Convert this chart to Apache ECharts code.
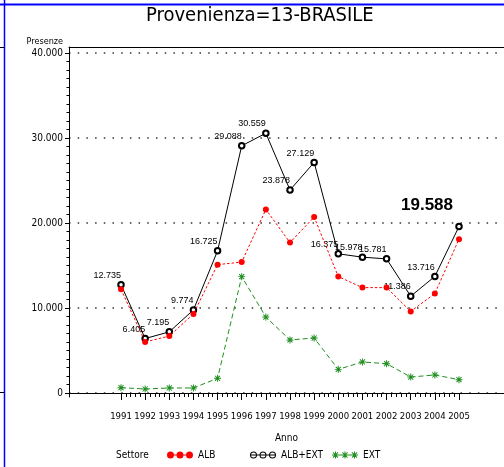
<!DOCTYPE html>
<html>
<head>
<meta charset="utf-8">
<script src="https://cdn.jsdelivr.net/npm/echarts@6/dist/echarts.min.js"></script>
<style>
  html, body { margin: 0; padding: 0; background: #fff; }
  #chart { width: 504px; height: 467px; }
</style>
</head>
<body>
<div id="chart"></div>
<script>
const years = [1991, 1992, 1993, 1994, 1995, 1996, 1997, 1998, 1999, 2000, 2001, 2002, 2003, 2004, 2005];
const albExt = [12735, 6405, 7195, 9774, 16725, 29088, 30559, 23878, 27129, 16375, 15978, 15781, 11386, 13716, 19588];
const alb = [12200, 6000, 6700, 9300, 15100, 15400, 21600, 17700, 20700, 13700, 12400, 12400, 9600, 11700, 18100];
const ext = [630, 470, 590, 590, 1730, 13690, 8940, 6240, 6470, 2780, 3650, 3450, 1880, 2120, 1570];
const yTicks = [0, 10000, 20000, 30000, 40000];

const chart = echarts.init(document.getElementById("chart"));
const FONT = '"DejaVu Sans Condensed", "Liberation Sans Narrow", sans-serif';

function fmtIt(v) {
  return String(Math.round(v)).replace(/\B(?=(\d{3})+(?!\d))/g, ".");
}

function pairs(vals) {
  return vals.map((v, i) => [years[i], v]);
}

// asterisk built from four thin bars, all wound the same way
function asterisk(cx, cy, r, w) {
  const h = w / 2;
  const d = r * 0.72;
  const k = h * 0.72;
  return [
    `M${cx - r} ${cy - h}H${cx + r}V${cy + h}H${cx - r}Z`,
    `M${cx - h} ${cy - r}H${cx + h}V${cy + r}H${cx - h}Z`,
    `M${cx - d + k} ${cy - d - k}L${cx + d + k} ${cy + d - k}L${cx + d - k} ${cy + d + k}L${cx - d - k} ${cy - d + k}Z`,
    `M${cx + d - k} ${cy - d - k}L${cx + d + k} ${cy - d + k}L${cx - d + k} ${cy + d + k}L${cx - d - k} ${cy + d - k}Z`,
  ].join("");
}

function dot(cx, cy, r) {
  return `M${cx - r} ${cy}a${r} ${r} 0 1 1 ${2 * r} 0a${r} ${r} 0 1 1 ${-2 * r} 0Z`;
}
function ring(cx, cy, r, t) {
  const ri = r - t;
  return dot(cx, cy, r) + `M${cx - ri} ${cy}a${ri} ${ri} 0 1 0 ${2 * ri} 0a${ri} ${ri} 0 1 0 ${-2 * ri} 0Z`;
}

const centers = [3.5, 13, 22.5];
const iconAlb = "path://" + centers.map((c) => dot(c, 4, 3.5)).join("") + "M7 3.5H9.5V4.5H7ZM16.5 3.5H19V4.5H16.5Z";
const iconTot = "path://M0 3.5H26V4.5H0Z" + centers.map((c) => ring(c, 4, 3.5, 1)).join("");
const iconExt = "path://M0 3.6H26V4.4H0Z" + centers.map((c) => asterisk(c, 4, 3.5, 1)).join("");
const starSymbol = "path://" + asterisk(5, 5, 5, 1.4);

const xMin = 1991 - 52 / 24.143;
const xMax = xMin + 435 / 24.143;
const minorX = [];
for (let y = 1991; y < 2005; y++) {
  for (let k = 1; k < 5; k++) minorX.push(y + k / 5);
}
const minorY = [];
for (let v = 0; v <= 40000; v += 1000) minorY.push(v);

const axisText = { fontFamily: FONT, fontSize: 10, color: "#000" };

chart.setOption({
  animation: false,
  title: {
    text: "Provenienza=13-BRASILE",
    left: 146,
    top: 6,
    padding: 0,
    textStyle: { fontFamily: FONT, fontSize: 20, fontWeight: "normal", color: "#000" },
  },
  grid: { left: 69, right: 0, top: 47, bottom: 70 },
  legend: [
    { data: [{ name: "ALB", icon: iconAlb }], left: 167, top: 450 },
    { data: [{ name: "ALB+EXT", icon: iconTot }], left: 250, top: 450 },
    { data: [{ name: "EXT", icon: iconExt }], left: 332, top: 450 },
  ].map((l) => Object.assign(l, {
    itemWidth: 26, itemHeight: 8, padding: 0, selectedMode: false,
    textStyle: axisText,
  })),
  graphic: [
    { type: "text", left: 116, top: 450, style: { text: "Settore", font: `10px ${FONT}`, fill: "#000" } },
    { type: "text", right: 441, top: 37, style: { text: "Presenze", font: `9px ${FONT}`, fill: "#000" } },
    { type: "line", shape: { x1: 0, y1: 4.5, x2: 504, y2: 4.5 }, style: { stroke: "#0000ff", lineWidth: 2 } },
    { type: "line", shape: { x1: 4.5, y1: 0, x2: 4.5, y2: 467 }, style: { stroke: "#0000ff", lineWidth: 1.5 } },
    { type: "line", shape: { x1: 0, y1: 47.5, x2: 4, y2: 47.5 }, style: { stroke: "#000", lineWidth: 1 } },
    { type: "line", shape: { x1: 0, y1: 392.5, x2: 4, y2: 392.5 }, style: { stroke: "#000", lineWidth: 1 } },
  ],
  xAxis: [
    {
      type: "value", min: xMin, max: xMax, position: "bottom",
      name: "Anno", nameLocation: "middle", nameGap: 36,
      nameTextStyle: axisText,
      axisLine: { lineStyle: { color: "#000", width: 1 } },
      axisTick: { customValues: years, length: 7, lineStyle: { color: "#000" } },
      axisLabel: { customValues: years, margin: 15, ...axisText, fontSize: 9.5, formatter: (v) => String(Math.round(v)) },
      splitLine: { show: false },
    },
    {
      type: "value", min: xMin, max: xMax, position: "bottom",
      axisLine: { show: false },
      axisTick: { customValues: minorX, length: 4, lineStyle: { color: "#000" } },
      axisLabel: { show: false },
      splitLine: { show: false },
    },
    {
      type: "value", min: xMin, max: xMax, position: "top",
      axisLine: { lineStyle: { color: "#000", width: 1 } },
      axisTick: { show: false },
      axisLabel: { show: false },
      splitLine: { show: false },
    },
  ],
  yAxis: [
    {
      type: "value", min: -471, max: 40706, position: "left",
      axisLine: { show: true, lineStyle: { color: "#000", width: 1 } },
      axisTick: { show: true, customValues: yTicks, length: 4, lineStyle: { color: "#000" } },
      axisLabel: { customValues: yTicks, margin: 6, ...axisText, formatter: fmtIt },
      splitLine: { show: true, lineStyle: { color: "#333", width: 1.5, type: [1.5, 7.2], dashOffset: 0 } },
    },
    {
      type: "value", min: -471, max: 40706, position: "left",
      axisLine: { show: false },
      axisTick: { show: true, customValues: minorY, length: 2.5, lineStyle: { color: "#000" } },
      axisLabel: { show: false },
      splitLine: { show: false },
    },
  ],
  series: [
    {
      name: "ALB+EXT",
      type: "line",
      data: pairs(albExt).map((p, i) => i === albExt.length - 1 ? {
        value: p,
        label: { fontFamily: "Liberation Sans", fontSize: 17, fontWeight: "bold", offset: [-6, -8] },
      } : p),
      symbol: "emptyCircle",
      symbolSize: 5.5,
      showAllSymbol: true,
      itemStyle: { color: "#000", borderWidth: 0.8 },
      lineStyle: { color: "#000", width: 1 },
      label: {
        show: true, position: "top", align: "right", distance: 1,
        fontFamily: "Liberation Sans", fontSize: 9, color: "#000",
        formatter: (p) => fmtIt(p.value[1]),
      },
      z: 3,
    },
    {
      name: "ALB",
      type: "line",
      data: pairs(alb),
      symbol: "circle",
      symbolSize: 6,
      showAllSymbol: true,
      itemStyle: { color: "#ff0000" },
      lineStyle: { color: "#ff0000", width: 1, type: [2.5, 2] },
      z: 4,
    },
    {
      name: "EXT",
      type: "line",
      data: pairs(ext),
      symbol: starSymbol,
      symbolSize: 7,
      showAllSymbol: true,
      itemStyle: { color: "#1f8f1f" },
      lineStyle: { color: "#1f8f1f", width: 1, type: [5, 3] },
      z: 2,
    },
  ],
});
</script>
</body>
</html>
